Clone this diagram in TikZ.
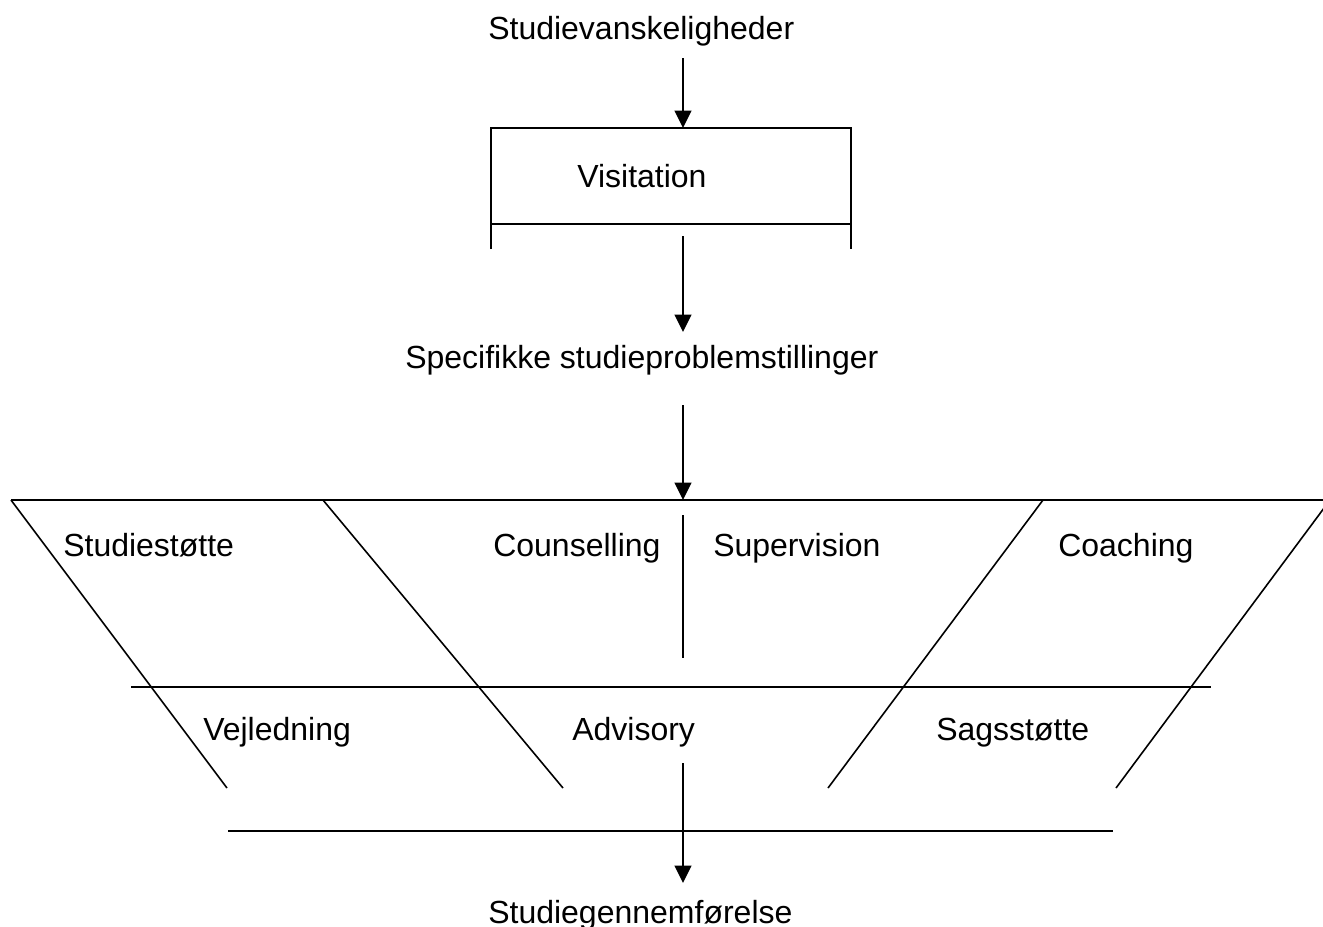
\documentclass[tikz,border=0pt]{standalone}
\usepackage{fontspec}
\setmainfont{Liberation Sans}
\usetikzlibrary{arrows.meta}

\begin{document}
\begin{tikzpicture}[x=0.75pt,y=0.75pt,yscale=-1,xscale=1,
  lbl/.style={anchor=base west,inner sep=0pt,font=\fontsize{24}{29}\selectfont},
  flow/.style={line width=1.6pt,-{Triangle[length=13pt,width=12.5pt]}},
  rule/.style={line width=1.2pt}]
\useasboundingbox (0,0) rectangle (1323,926);

% Text Node
\node (hard) [lbl] at (488,39) {Studievanskeligheder};
% Text Node
\node (visit) [lbl] at (577,187) {Visitation};
% Text Node
\node (spec) [lbl] at (405,368) {Specifikke studieproblemstillinger};
% Text Node
\node (stud) [lbl] at (63,556) {Studiestøtte};
\node (couns) [lbl] at (493,556) {Counselling};
\node (superv) [lbl] at (713,556) {Supervision};
\node (coach) [lbl] at (1058,556) {Coaching};
% Text Node
\node (vejl) [lbl] at (203,740) {Vejledning};
\node (advis) [lbl] at (572,740) {Advisory};
\node (sags) [lbl] at (936,740) {Sagsstøtte};
% Text Node
\node (done) [lbl] at (488,923) {Studiegennemførelse};

%Shape: Box open below
\coordinate (boxNW) at (491,128);
\coordinate (boxNE) at (851,128);
\coordinate (boxSW) at (491,249);
\coordinate (boxSE) at (851,249);
\draw [rule] (boxSW) -- (boxNW) -- (boxNE) -- (boxSE);
\draw [rule] (491,224) -- (851,224);

%Straight Lines
\draw [rule] (11,500) -- (1332,500);
\draw [rule] (131,687) -- (1211,687);
\draw [rule] (228,831) -- (1113,831);
\draw [rule] (683,515) -- (683,658);
% diagonals
\draw [rule] (11,500) -- (227,788);
\draw [rule] (323,500) -- (563,788);
\draw [rule] (1043,500) -- (828,788);
\draw [rule] (1330,500) -- (1116,788);

%Arrows
\coordinate (a1) at (683,58);
\coordinate (a2) at (683,236);
\coordinate (a2e) at (683,332);
\coordinate (a3) at (683,405);
\coordinate (a3e) at (683,500);
\coordinate (a4) at (683,763);
\coordinate (a4e) at (683,883);
\draw [flow] (a1) -- (a1 |- boxNW);
\draw [flow] (a2) -- (a2e);
\draw [flow] (a3) -- (a3e);
\draw [flow] (a4) -- (a4e);

\end{tikzpicture}
\end{document}
